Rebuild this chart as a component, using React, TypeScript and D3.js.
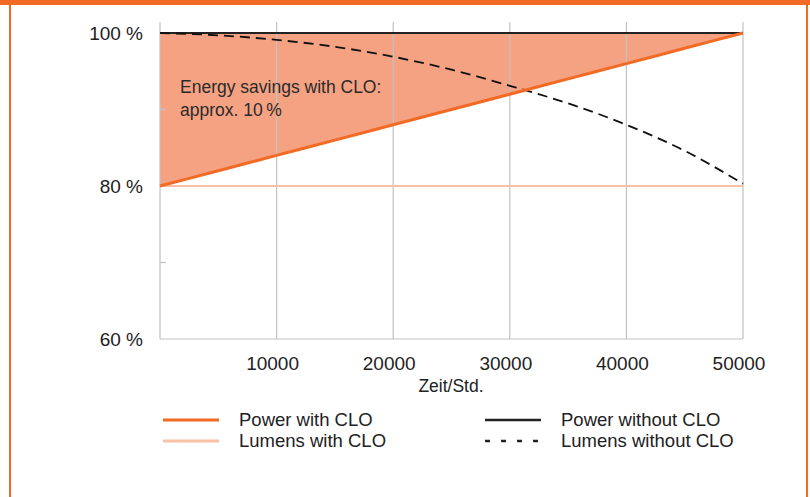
import { useEffect, useRef } from 'react';
import * as d3 from 'd3';

// hours
const hours = [0, 5000, 10000, 15000, 20000, 25000, 30000, 35000, 40000, 45000, 50000];
// power with CLO grows linearly 80 -> 100 %
const powerWithClo = [80, 82, 84, 86, 88, 90, 92, 94, 96, 98, 100];
const powerWithoutClo = [100, 100, 100, 100, 100, 100, 100, 100, 100, 100, 100];
const lumensWithClo = [80, 80, 80, 80, 80, 80, 80, 80, 80, 80, 80];
const lumensWithoutClo = [100, 99.7, 99.1, 98.2, 96.9, 95.2, 93.1, 90.8, 88.0, 84.6, 80.3];

const xTicks = [10000, 20000, 30000, 40000, 50000];
const yTicks = [60, 70, 80, 90, 100];
const yLabels = ['60 %', '', '80 %', '', '100 %'];

const ORANGE = '#F26A24';
const FILL = '#F5A282';
const LIGHT = '#F8C1A6';
const GRID = '#C2C2C2';
const FONT = '"Liberation Sans", Arial, sans-serif';

const App = () => {
    const svgRef = useRef<SVGSVGElement>(null);

    useEffect(() => {
        if (!svgRef.current) return;
        const svg = d3.select(svgRef.current);
        svg.selectAll('*').remove();

        const W = 810, H = 497;
        svg.attr('width', W).attr('height', H);

        // frame
        svg.append('rect').attr('x', 0).attr('y', 0).attr('width', W).attr('height', 5).attr('fill', ORANGE);
        svg.append('rect').attr('x', 9).attr('y', 0).attr('width', 2).attr('height', H).attr('fill', ORANGE);
        svg.append('rect').attr('x', 806).attr('y', 0).attr('width', 2).attr('height', H).attr('fill', ORANGE);

        const x = d3.scaleLinear().domain([0, 50000]).range([160, 743]);
        const y = d3.scaleLinear().domain([60, 100]).range([339, 33]);

        const pts = hours.map((h, i) => ({
            h,
            pw: powerWithClo[i],
            pwo: powerWithoutClo[i],
            lw: lumensWithClo[i],
            lwo: lumensWithoutClo[i],
        }));

        // savings area
        const area = d3.area<typeof pts[0]>()
            .x(d => x(d.h))
            .y0(d => y(d.pw))
            .y1(d => y(d.pwo));
        svg.append('path').datum(pts).attr('d', area).attr('fill', FILL);

        // vertical grid lines
        xTicks.forEach(t => {
            svg.append('line')
                .attr('x1', x(t)).attr('x2', x(t))
                .attr('y1', 22).attr('y2', y(60))
                .attr('stroke', GRID).attr('stroke-width', 1.2);
        });

        // axes
        svg.append('line').attr('x1', x(0)).attr('x2', x(0)).attr('y1', 22).attr('y2', y(60))
            .attr('stroke', GRID).attr('stroke-width', 1.2);
        svg.append('line').attr('x1', x(0)).attr('x2', x(50000)).attr('y1', y(60)).attr('y2', y(60))
            .attr('stroke', GRID).attr('stroke-width', 1.2);

        yTicks.forEach((t, i) => {
            if (!yLabels[i]) {
                svg.append('line').attr('x1', x(0)).attr('x2', x(0) + 6)
                    .attr('y1', y(t)).attr('y2', y(t))
                    .attr('stroke', GRID).attr('stroke-width', 1.2);
            } else {
                svg.append('text')
                    .attr('x', 143).attr('y', y(t)).attr('dy', '0.35em')
                    .attr('text-anchor', 'end')
                    .attr('font-family', FONT).attr('font-size', 19).attr('fill', '#222')
                    .text(yLabels[i]);
            }
        });

        xTicks.forEach(t => {
            svg.append('text')
                .attr('x', x(t) - 4).attr('y', 370)
                .attr('text-anchor', 'middle')
                .attr('font-family', FONT).attr('font-size', 19).attr('fill', '#222')
                .text(String(t));
        });

        svg.append('text')
            .attr('x', 451).attr('y', 392)
            .attr('text-anchor', 'middle')
            .attr('font-family', FONT).attr('font-size', 17.5).attr('fill', '#222')
            .text('Zeit/Std.');

        const line = (key: 'pw' | 'pwo' | 'lw' | 'lwo') => d3.line<typeof pts[0]>()
            .x(d => x(d.h))
            .y(d => y(d[key]))
            .curve(d3.curveMonotoneX)(pts);

        svg.append('path').attr('d', line('lw')).attr('fill', 'none').attr('stroke', LIGHT).attr('stroke-width', 2);
        svg.append('path').attr('d', line('pwo')).attr('fill', 'none').attr('stroke', '#222').attr('stroke-width', 2);
        svg.append('path').attr('d', line('lwo')).attr('fill', 'none').attr('stroke', '#111')
            .attr('stroke-width', 1.8).attr('stroke-dasharray', '10,6');
        svg.append('path').attr('d', line('pw')).attr('fill', 'none').attr('stroke', ORANGE).attr('stroke-width', 3);

        // annotation
        const ann = svg.append('text').attr('font-family', FONT).attr('font-size', 17.5).attr('fill', '#2a2a2a');
        ann.append('tspan').attr('x', 180).attr('y', 93).text('Energy savings with CLO:');
        ann.append('tspan').attr('x', 180).attr('y', 116).text('approx. 10\u2009%');

        // legend
        const legend = [
            { label: 'Power with CLO', color: ORANGE, dash: null, w: 3, lx: 163, ly: 420 },
            { label: 'Lumens with CLO', color: LIGHT, dash: null, w: 3, lx: 163, ly: 441 },
            { label: 'Power without CLO', color: '#222', dash: null, w: 2.5, lx: 485, ly: 420 },
            { label: 'Lumens without CLO', color: '#222', dash: '5,11', w: 2.5, lx: 485, ly: 441 },
        ];
        legend.forEach(l => {
            const ln = svg.append('line')
                .attr('x1', l.lx).attr('x2', l.lx + 56)
                .attr('y1', l.ly).attr('y2', l.ly)
                .attr('stroke', l.color).attr('stroke-width', l.w);
            if (l.dash) ln.attr('stroke-dasharray', l.dash);
            svg.append('text')
                .attr('x', l.lx + 76).attr('y', l.ly).attr('dy', '0.35em')
                .attr('font-family', FONT).attr('font-size', 18.5).attr('fill', '#222')
                .text(l.label);
        });
    }, []);

    return (
        <div style={{ position: 'absolute', left: 0, top: 0, width: 810, height: 497, overflow: 'hidden' }}>
            <svg ref={svgRef} style={{ display: 'block' }}></svg>
        </div>
    );
};

export default App;
